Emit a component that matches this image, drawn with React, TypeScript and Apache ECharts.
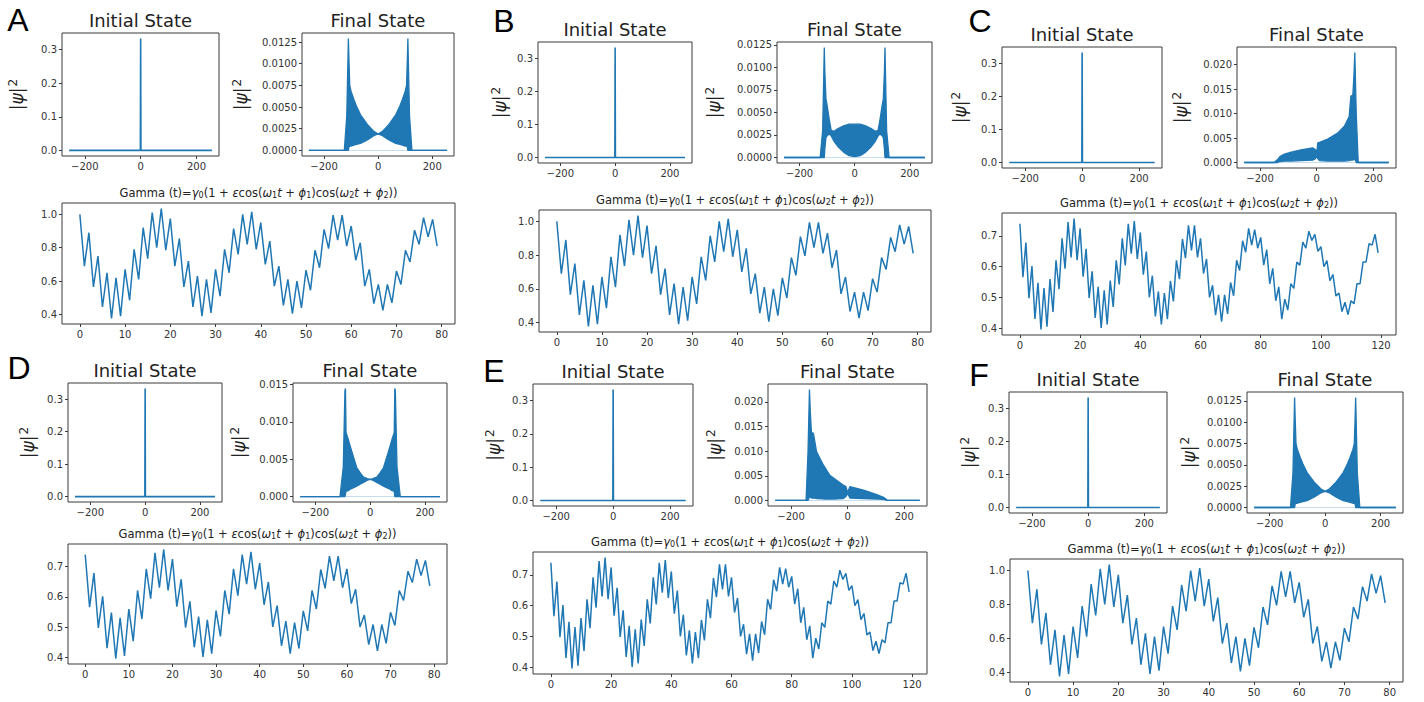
import React, { useEffect, useRef } from 'react';
import * as echarts from 'echarts';

const BLUE = '#1f77b4';

// ---------- data ----------
const initialX = [-256, -1, 0, 1, 255];
const initialY = [0, 0, 0.333, 0, 0];

// Final state envelopes (A)
const finalA_x = [-256, -125, -116, -110, -108, -105, -100, -90, -80, -65, -40, -16, 0, 16, 40, 65, 80, 90, 100, 105, 108, 110, 116, 125, 255];
const finalA_upper = [0, 0, 0.004, 0.0129, 0.0105, 0.0075, 0.0068, 0.0059, 0.0051, 0.0041, 0.003, 0.0022, 0.0019, 0.0022, 0.003, 0.0041, 0.0051, 0.0059, 0.0068, 0.0075, 0.0105, 0.0129, 0.004, 0, 0];
const finalA_lower = [0, 0, 0, 0, 0.0004, 0.0005, 0.0005, 0.0006, 0.0007, 0.0008, 0.0012, 0.0017, 0.0019, 0.0017, 0.0012, 0.0008, 0.0007, 0.0006, 0.0005, 0.0005, 0.0004, 0, 0, 0, 0];

// (B)
const finalB_x = [-256, -125, -116, -110, -108, -104, -100, -92, -85, -75, -60, -40, -20, 0, 20, 40, 60, 75, 85, 92, 100, 104, 108, 110, 116, 125, 255];
const finalB_upper = [0, 0, 0.003, 0.0122, 0.0095, 0.0065, 0.0058, 0.0042, 0.003, 0.0029, 0.0032, 0.0035, 0.0037, 0.0037, 0.0037, 0.0035, 0.0032, 0.0029, 0.003, 0.0042, 0.0058, 0.0065, 0.0095, 0.0122, 0.003, 0, 0];
const finalB_lower = [0, 0, 0, 0, 0.001, 0.0022, 0.0024, 0.0026, 0.0024, 0.0018, 0.0012, 0.0006, 0.0002, 0.0001, 0.0002, 0.0006, 0.0012, 0.0018, 0.0024, 0.0026, 0.0024, 0.0022, 0.001, 0, 0, 0, 0];

// (C)
const finalC_x = [-256, -150, -138, -130, -114, -90, -55, -14, -4, 0, 4, 10, 39, 74, 98, 115, 121, 128, 132, 135, 140, 147, 255];
const finalC_upper = [0, 0, 0.0006, 0.0012, 0.0017, 0.0021, 0.0026, 0.003, 0.0026, 0.0018, 0.004, 0.0041, 0.0048, 0.006, 0.0074, 0.0094, 0.0136, 0.0138, 0.018, 0.0225, 0.01, 0, 0];
const finalC_lower = [0, 0, 0, 0.0002, 0.0003, 0.0003, 0.0004, 0.0005, 0.0008, 0.0014, 0.0008, 0.0004, 0.0003, 0.0003, 0.0003, 0.0004, 0.0005, 0.0005, 0.0006, 0.0008, 0, 0, 0];

// (D)
const finalD_x = [-256, -110, -98, -92, -90, -88, -80, -73, -60, -49, -35, -24, -10, 0, 10, 24, 35, 49, 60, 73, 80, 88, 90, 92, 98, 110, 255];
const finalD_upper = [0, 0, 0.004, 0.0142, 0.0145, 0.0086, 0.0077, 0.0068, 0.0052, 0.0039, 0.0031, 0.0026, 0.0024, 0.0023, 0.0024, 0.0026, 0.0031, 0.0039, 0.0052, 0.0068, 0.0077, 0.0086, 0.0145, 0.0142, 0.004, 0, 0];
const finalD_lower = [0, 0, 0, 0, 0, 0.0007, 0.0008, 0.001, 0.0012, 0.0014, 0.0017, 0.0019, 0.0022, 0.0023, 0.0022, 0.0019, 0.0017, 0.0014, 0.0012, 0.001, 0.0008, 0.0007, 0, 0, 0, 0, 0];

// (E)
const finalE_x = [-256, -147, -140, -135, -132, -128, -121, -110, -86, -63, -39, -15, -6, 0, 8, 56, 103, 125, 133, 140, 255];
const finalE_upper = [0, 0, 0.01, 0.0225, 0.018, 0.0138, 0.0136, 0.0099, 0.0072, 0.0051, 0.0041, 0.0031, 0.0028, 0.0016, 0.0028, 0.0021, 0.0012, 0.0007, 0.0004, 0, 0];
const finalE_lower = [0, 0, 0, 0.0008, 0.0006, 0.0005, 0.0005, 0.0004, 0.0003, 0.0003, 0.0003, 0.0004, 0.0008, 0.0014, 0.0005, 0.0004, 0.0003, 0.0002, 0.0001, 0, 0];

// (F)
const finalF_x = [-256, -125, -116, -110, -108, -105, -100, -90, -80, -65, -40, -16, 0, 16, 40, 65, 80, 90, 100, 105, 108, 110, 116, 125, 255];
const finalF_upper = [0, 0, 0.004, 0.0129, 0.0105, 0.0075, 0.0068, 0.0059, 0.0051, 0.0041, 0.003, 0.0022, 0.0019, 0.0022, 0.003, 0.0041, 0.0051, 0.0059, 0.0068, 0.0075, 0.0105, 0.0129, 0.004, 0, 0];
const finalF_lower = [0, 0, 0, 0, 0.0004, 0.0005, 0.0005, 0.0006, 0.0007, 0.0008, 0.0012, 0.0017, 0.0019, 0.0017, 0.0012, 0.0008, 0.0007, 0.0006, 0.0005, 0.0005, 0.0004, 0, 0, 0, 0];

// Gamma(t) series
const gammaHigh = [
  1.0, 0.69, 0.89, 0.565, 0.75, 0.445, 0.65, 0.376, 0.62, 0.39,
  0.67, 0.485, 0.79, 0.61, 0.92, 0.735, 1.01, 0.8, 1.035, 0.785,
  0.975, 0.69, 0.855, 0.565, 0.72, 0.445, 0.63, 0.39, 0.61, 0.41,
  0.67, 0.51, 0.79, 0.65, 0.915, 0.76, 1.0, 0.82, 1.015, 0.79,
  0.95, 0.7, 0.84, 0.57, 0.69, 0.455, 0.61, 0.405, 0.6, 0.44,
  0.665, 0.545, 0.785, 0.68, 0.91, 0.795, 0.995, 0.845, 0.995, 0.81,
  0.93, 0.725, 0.83, 0.57, 0.67, 0.465, 0.58, 0.425, 0.58, 0.47,
  0.66, 0.58, 0.785, 0.715, 0.905, 0.82, 0.98, 0.865, 0.97, 0.81,
];
const gammaLow = [
  0.739, 0.566, 0.678, 0.498, 0.602, 0.431, 0.548, 0.397, 0.531, 0.406,
  0.56, 0.454, 0.621, 0.527, 0.692, 0.594, 0.745, 0.63, 0.756, 0.621,
  0.724, 0.568, 0.658, 0.499, 0.585, 0.434, 0.535, 0.402, 0.524, 0.413,
  0.555, 0.47, 0.621, 0.543, 0.692, 0.604, 0.739, 0.642, 0.748, 0.625,
  0.711, 0.574, 0.649, 0.501, 0.571, 0.439, 0.52, 0.413, 0.515, 0.43,
  0.554, 0.488, 0.621, 0.56, 0.69, 0.628, 0.734, 0.653, 0.734, 0.63,
  0.692, 0.578, 0.625, 0.501, 0.54, 0.443, 0.509, 0.422, 0.509, 0.447,
  0.549, 0.506, 0.621, 0.588, 0.684, 0.647, 0.724, 0.67, 0.72, 0.636,
];
const gammaLong = [
  0.739, 0.566, 0.678, 0.498, 0.602, 0.431, 0.548, 0.397, 0.531, 0.406,
  0.56, 0.454, 0.621, 0.527, 0.692, 0.594, 0.745, 0.63, 0.756, 0.621,
  0.724, 0.568, 0.658, 0.499, 0.585, 0.434, 0.535, 0.402, 0.524, 0.413,
  0.555, 0.47, 0.621, 0.543, 0.692, 0.604, 0.739, 0.642, 0.748, 0.625,
  0.711, 0.574, 0.649, 0.501, 0.571, 0.439, 0.52, 0.413, 0.515, 0.43,
  0.554, 0.488, 0.621, 0.56, 0.69, 0.628, 0.734, 0.653, 0.734, 0.63,
  0.692, 0.578, 0.625, 0.501, 0.54, 0.443, 0.509, 0.422, 0.509, 0.447,
  0.549, 0.506, 0.621, 0.588, 0.684, 0.647, 0.724, 0.67, 0.72, 0.66,
  0.695, 0.605, 0.655, 0.545, 0.595, 0.49, 0.535, 0.43, 0.495, 0.46,
  0.545, 0.53, 0.615, 0.605, 0.68, 0.66, 0.715, 0.685, 0.705, 0.65,
  0.665, 0.6, 0.62, 0.555, 0.575, 0.505, 0.515, 0.455, 0.485, 0.445,
  0.49, 0.48, 0.545, 0.545, 0.615, 0.615, 0.675, 0.67, 0.705, 0.645,
];

// tick values
const posTicks = [-200, 0, 200];
const initTicksY = [0, 0.1, 0.2, 0.3];
const finalTicksFine = [0, 0.0025, 0.005, 0.0075, 0.01, 0.0125];
const finalTicksWide = [0, 0.005, 0.01, 0.015, 0.02];
const finalTicksD = [0, 0.005, 0.01, 0.015];
const gammaTicksX80 = [0, 10, 20, 30, 40, 50, 60, 70, 80];
const gammaTicksX120 = [0, 20, 40, 60, 80, 100, 120];
const gammaTicksYHigh = [0.4, 0.6, 0.8, 1.0];
const gammaTicksYLow = [0.4, 0.5, 0.6, 0.7];

const panelLetters = ['A', 'B', 'C', 'D', 'E', 'F'];

// ---------- layout (pixel boxes: left, top, right, bottom) ----------
type Box = [number, number, number, number];
interface Panel {
  letter: string; lx: number; ly: number;
  init: Box; fin: Box; gam: Box; initLab: number; finLab: number;
  fx: number[]; fu: number[]; fl: number[]; fTicks: number[]; fDec: number;
  g: number[]; gTX: number[]; gTY: number[];
}
const panels: Panel[] = [
  { letter: panelLetters[0], lx: 18, ly: 20, init: [62, 33, 219, 156], fin: [302, 33, 454, 156], gam: [62, 203, 455, 324], initLab: 17, finLab: 241,
    fx: finalA_x, fu: finalA_upper, fl: finalA_lower, fTicks: finalTicksFine, fDec: 4, g: gammaHigh, gTX: gammaTicksX80, gTY: gammaTicksYHigh },
  { letter: panelLetters[1], lx: 504, ly: 21, init: [538, 42, 692, 163], fin: [777, 42, 932, 163], gam: [539, 210, 931, 332], initLab: 500, finLab: 714,
    fx: finalB_x, fu: finalB_upper, fl: finalB_lower, fTicks: finalTicksFine, fDec: 4, g: gammaHigh, gTX: gammaTicksX80, gTY: gammaTicksYHigh },
  { letter: panelLetters[2], lx: 980, ly: 21, init: [1002, 47, 1162, 168], fin: [1237, 47, 1396, 168], gam: [1002, 213, 1396, 335], initLab: 960, finLab: 1181,
    fx: finalC_x, fu: finalC_upper, fl: finalC_lower, fTicks: finalTicksWide, fDec: 3, g: gammaLong, gTX: gammaTicksX120, gTY: gammaTicksYLow },
  { letter: panelLetters[3], lx: 19, ly: 368, init: [68, 383, 222, 502], fin: [293, 383, 447, 502], gam: [68, 544, 447, 664], initLab: 28, finLab: 239,
    fx: finalD_x, fu: finalD_upper, fl: finalD_lower, fTicks: finalTicksD, fDec: 3, g: gammaLow, gTX: gammaTicksX80, gTY: gammaTicksYLow },
  { letter: panelLetters[4], lx: 494, ly: 371, init: [533, 384, 693, 506], fin: [768, 384, 927, 506], gam: [533, 552, 927, 674], initLab: 494, finLab: 715,
    fx: finalE_x, fu: finalE_upper, fl: finalE_lower, fTicks: finalTicksWide, fDec: 3, g: gammaLong, gTX: gammaTicksX120, gTY: gammaTicksYLow },
  { letter: panelLetters[5], lx: 979, ly: 375, init: [1009, 392, 1167, 513], fin: [1247, 392, 1403, 513], gam: [1010, 559, 1403, 682], initLab: 969, finLab: 1189,
    fx: finalF_x, fu: finalF_upper, fl: finalF_lower, fTicks: finalTicksFine, fDec: 4, g: gammaHigh, gTX: gammaTicksX80, gTY: gammaTicksYHigh },
];

const FONT = 'DejaVu Sans';

function padRange(vals: number[]): [number, number] {
  const mn = Math.min(...vals);
  const mx = Math.max(...vals);
  const d = (mx - mn) * 0.05;
  return [mn - d, mx + d];
}
const fmt = (dec: number) => (v: number) => {
  const s = Math.abs(v).toFixed(dec);
  return (v < -1e-9 ? '\u2212' : '') + s;
};

function buildOption() {
  const grid: any[] = [];
  const xAxis: any[] = [];
  const yAxis: any[] = [];
  const series: any[] = [];
  const graphic: any[] = [];

  const addAxes = (box: Box, xr: [number, number], yr: [number, number], xt: number[], yt: number[], xd: number, yd: number) => {
    const idx = grid.length;
    grid.push({ left: box[0], top: box[1], width: box[2] - box[0], height: box[3] - box[1], show: true, borderColor: '#3a3a3a', borderWidth: 1, backgroundColor: 'rgba(0,0,0,0)', containLabel: false });
    const common = { axisLine: { show: false, onZero: false }, splitLine: { show: false } };
    xAxis.push({ type: 'value', gridIndex: idx, min: xr[0], max: xr[1], ...common,
      axisTick: { show: true, length: 3, customValues: xt, lineStyle: { color: '#3a3a3a', width: 1 } },
      axisLabel: { show: true, customValues: xt, formatter: fmt(xd), fontSize: 10, fontFamily: FONT, color: '#333', margin: 5 } });
    yAxis.push({ type: 'value', gridIndex: idx, min: yr[0], max: yr[1], ...common,
      axisTick: { show: true, length: 3, customValues: yt, lineStyle: { color: '#3a3a3a', width: 1 } },
      axisLabel: { show: true, customValues: yt, formatter: fmt(yd), fontSize: 10, fontFamily: FONT, color: '#333', margin: 5 } });
    return idx;
  };
  const line = (idx: number, xs: number[], ys: number[], extra: any = {}) => {
    series.push({ type: 'line', xAxisIndex: idx, yAxisIndex: idx, data: xs.map((x, i) => [x, ys[i]]), showSymbol: false, symbol: 'none', silent: true,
      lineStyle: { color: BLUE, width: 1.3 }, ...extra });
  };
  const titleText = (x: number, y: number, text: string, size: number, rich?: any) => {
    graphic.push({ type: 'text', x, y, silent: true, style: { text, fontSize: size, fontFamily: FONT, fill: '#222', align: 'center', textAlign: 'center', verticalAlign: 'middle', textVerticalAlign: 'middle', rich } });
  };
  const ylabel = (x: number, y: number) => {
    graphic.push({ type: 'text', x, y, rotation: Math.PI / 2, silent: true,
      style: { text: '|{i|ψ}|{s|2}', fontSize: 17, fontFamily: FONT, fill: '#222', align: 'center', textAlign: 'center', verticalAlign: 'middle', textVerticalAlign: 'middle',
        rich: { i: { fontSize: 17, fontFamily: FONT, fontStyle: 'italic', fill: '#222' }, s: { fontSize: 12, fontFamily: FONT, fill: '#222', verticalAlign: 'top', padding: [0, 0, 8, 1] } } } });
  };
  const gammaRich = {
    i: { fontSize: 11.5, fontFamily: FONT, fontStyle: 'italic', fill: '#222' },
    s: { fontSize: 8, fontFamily: FONT, fill: '#222', verticalAlign: 'bottom', padding: [4, 0, 0, 0] },
  };
  const gammaTitle = 'Gamma (t)={i|γ}{s|0}(1 + {i|ε}cos({i|ω}{s|1}{i|t} + {i|ϕ}{s|1})cos({i|ω}{s|2}{i|t} + {i|ϕ}{s|2}))';

  for (const p of panels) {
    // letter
    graphic.push({ type: 'text', x: p.lx, y: p.ly, silent: true, style: { text: p.letter, fontSize: 32, fontFamily: 'Liberation Sans', fill: '#000', align: 'center', textAlign: 'center', verticalAlign: 'middle', textVerticalAlign: 'middle' } });

    // initial
    const i1 = addAxes(p.init, padRange(initialX), padRange(initialY), posTicks, initTicksY, 0, 1);
    line(i1, initialX, initialY, { lineStyle: { color: BLUE, width: 1.6 } });
    titleText((p.init[0] + p.init[2]) / 2, p.init[1] - 12.5, 'Initial State', 18);
    ylabel(p.initLab, (p.init[1] + p.init[3]) / 2);

    // final
    const i2 = addAxes(p.fin, padRange(p.fx), padRange(p.fu), posTicks, p.fTicks, 0, p.fDec);
    line(i2, p.fx, p.fu, { areaStyle: { color: BLUE, opacity: 1, origin: 'auto' } });
    line(i2, p.fx, p.fl, { areaStyle: { color: '#ffffff', opacity: 1, origin: 'auto' } });
    titleText((p.fin[0] + p.fin[2]) / 2, p.fin[1] - 12.5, 'Final State', 18);
    ylabel(p.finLab, (p.fin[1] + p.fin[3]) / 2);

    // gamma
    const t = p.g.map((_, k) => k);
    const i3 = addAxes(p.gam, padRange(t), padRange(p.g), p.gTX, p.gTY, 0, 1);
    line(i3, t, p.g, { lineStyle: { color: BLUE, width: 1.5 } });
    titleText((p.gam[0] + p.gam[2]) / 2, p.gam[1] - 10, gammaTitle, 11.5, gammaRich);
  }

  return { animation: false, backgroundColor: '#ffffff', grid, xAxis, yAxis, series, graphic };
}

export default function App() {
  const ref = useRef<HTMLDivElement>(null);
  useEffect(() => {
    const chart = echarts.init(ref.current!, undefined, { renderer: 'svg', width: 1424, height: 702 });
    chart.setOption(buildOption());
    return () => chart.dispose();
  }, []);
  return <div ref={ref} style={{ position: 'absolute', left: 0, top: 0, width: 1424, height: 702, background: '#fff' }} />;
}
